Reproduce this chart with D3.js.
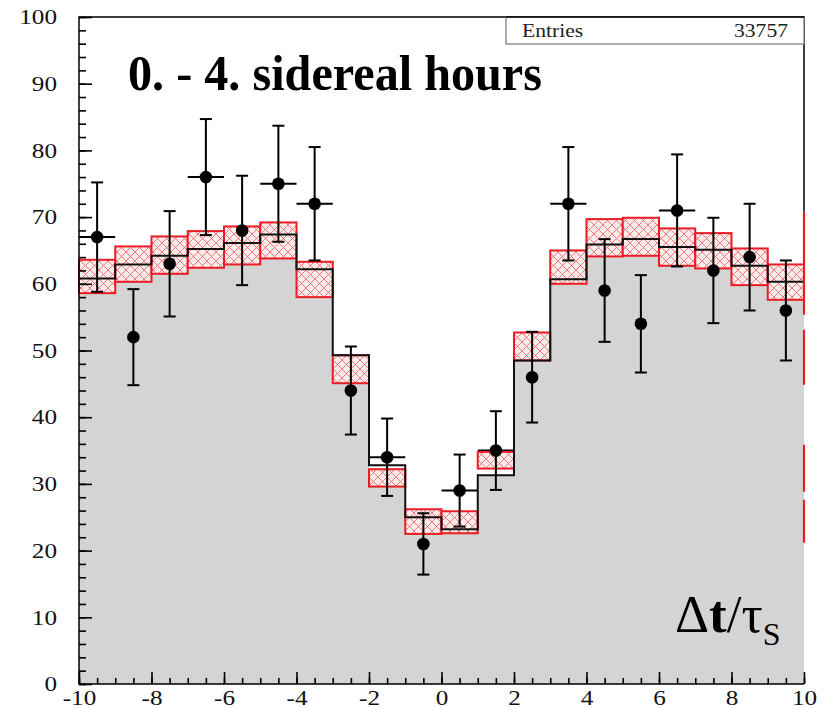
<!DOCTYPE html>
<html>
<head>
<meta charset="utf-8">
<script src="https://cdn.jsdelivr.net/npm/d3@7"></script>
<style>
body{margin:0;background:#fff}
text{font-family:"Liberation Serif","Times New Roman",serif}
</style>
</head>
<body>
<div id="chart"></div>
<script>
// bins of dt/tau_s, lower edges
var binLo = [-10,-9,-8,-7,-6,-5,-4,-3,-2,-1,0,1,2,3,4,5,6,7,8,9]
// measured counts and their errors
var counts = [67,52,63,76,68,75,72,44,34,21,29,35,46,72,59,54,71,62,64,56]
var errs = [8.2,7.2,7.9,8.7,8.2,8.7,8.5,6.6,5.8,4.6,5.4,5.9,6.8,8.5,7.7,7.3,8.4,7.9,8.0,7.5]
// expectation (black step) and its band (red hatched)
var model = [60.8,62.9,64.2,65.2,66.1,67.4,62.2,49.3,32.8,25.0,23.2,31.3,48.5,60.7,65.9,66.7,65.5,65.1,62.7,60.3]
var bandHi = [63.6,65.6,67.1,67.9,68.6,69.2,63.3,49.3,32.2,26.2,25.9,34.8,52.7,65.0,69.7,69.9,68.3,67.6,65.3,62.9]
var bandLo = [58.6,60.3,61.5,62.4,62.9,63.8,58.0,45.1,29.6,22.5,22.6,32.3,48.5,60.0,64.1,64.2,62.7,62.3,59.8,57.6]
var yTicks = [0,10,20,30,40,50,60,70,80,90,100]
var xTicks = [-10,-8,-6,-4,-2,0,2,4,6,8,10]
var entries = 33757
var title = "0. - 4. sidereal hours"

var width = 830, height = 708
var padL = 79, padR = 804, padT = 17, padB = 684
var red = "#ec1c24"
var grey = "#d4d4d4"

var x = d3.scaleLinear().domain([-10,10]).range([padL,padR])
var y = d3.scaleLinear().domain([0,100]).range([padB,padT])

var svg = d3.select("#chart").append("svg")
	.attr("width",width)
	.attr("height",height)

var defs = svg.append("defs")
var pat = defs.append("pattern").attr("id","hatch")
	.attr("patternUnits","userSpaceOnUse")
	.attr("width",9).attr("height",9)
pat.append("rect").attr("width",9).attr("height",9).attr("fill","#fbecec")
pat.append("path").attr("d","M0,0L9,9M9,0L0,9")
	.attr("stroke",red).attr("stroke-width",0.8).attr("opacity",0.7)

// step data, last edge repeated so the final bin is closed
function steps(vals){
	var pts = binLo.map(function(b,i){return {x:b,v:vals[i]}})
	pts.push({x:binLo[binLo.length-1]+1,v:vals[vals.length-1]})
	return pts
}
var shade = model.map(function(m,i){return Math.min(m,bandLo[i])})

// horizontal error bars go first: the grey area hides them where they fall inside it
svg.selectAll(".xerr")
	.data(counts)
	.enter()
	.append("line")
	.attr("x1",function(d,i){return x(binLo[i])})
	.attr("x2",function(d,i){return x(binLo[i]+1)})
	.attr("y1",function(d){return y(d)})
	.attr("y2",function(d){return y(d)})
	.attr("stroke","#000").attr("stroke-width",2)

var area = d3.area()
	.x(function(d){return x(d.x)})
	.y0(y(0))
	.y1(function(d){return y(d.v)})
	.curve(d3.curveStepAfter)
svg.append("path").datum(steps(shade)).attr("d",area).attr("fill",grey)

svg.selectAll(".band")
	.data(bandHi)
	.enter()
	.append("rect")
	.attr("x",function(d,i){return x(binLo[i])})
	.attr("y",function(d){return y(d)})
	.attr("width",x(1)-x(0))
	.attr("height",function(d,i){return y(bandLo[i])-y(d)})
	.attr("fill","url(#hatch)")
	.attr("stroke",red).attr("stroke-width",2)

var line = d3.line()
	.x(function(d){return x(d.x)})
	.y(function(d){return y(d.v)})
	.curve(d3.curveStepAfter)
svg.append("path").datum(steps(model)).attr("d",line)
	.attr("fill","none").attr("stroke","#111").attr("stroke-width",2)

var pts = svg.selectAll(".pt")
	.data(counts)
	.enter()
	.append("g")
	.attr("transform",function(d,i){return "translate("+x(binLo[i]+0.5)+",0)"})
pts.append("line")
	.attr("y1",function(d,i){return y(d-errs[i])})
	.attr("y2",function(d,i){return y(d+errs[i])})
	.attr("stroke","#000").attr("stroke-width",2)
pts.append("line").attr("x1",-6).attr("x2",6)
	.attr("y1",function(d,i){return y(d+errs[i])})
	.attr("y2",function(d,i){return y(d+errs[i])})
	.attr("stroke","#000").attr("stroke-width",2)
pts.append("line").attr("x1",-6).attr("x2",6)
	.attr("y1",function(d,i){return y(d-errs[i])})
	.attr("y2",function(d,i){return y(d-errs[i])})
	.attr("stroke","#000").attr("stroke-width",2)
pts.append("circle")
	.attr("cy",function(d){return y(d)})
	.attr("r",6.3)
	.attr("fill","#000")

// red dashed edge of the band along x = 10
svg.append("line")
	.attr("x1",x(10)).attr("x2",x(10))
	.attr("y1",y(70.8)).attr("y2",y(21.1))
	.attr("stroke",red).attr("stroke-width",2.2)
	.attr("stroke-dasharray","103,15,55,60,47,8,43,400")

// frame
svg.append("path")
	.attr("d","M"+x(10)+","+y(70.8)+"V"+padT+"H"+padL+"V"+padB+"H"+x(10))
	.attr("fill","none").attr("stroke","#000").attr("stroke-width",1.5)

// axes, ticks pointing inwards
var yAxis = d3.axisLeft(y).tickValues(yTicks).tickSize(-13).tickPadding(22)
	.tickFormat(function(d){return String(d)})
var yMinor = d3.axisLeft(y).tickValues(d3.range(0,101,2)).tickSize(-7).tickFormat("")
var xAxis = d3.axisBottom(x).tickValues(xTicks).tickSize(-12).tickPadding(6)
	.tickFormat(function(d){return String(d)})
var xMinor = d3.axisBottom(x).tickValues(d3.range(-10,10.01,0.5)).tickSize(-6).tickFormat("")

var sx = 1.2
var yG = svg.append("g").attr("transform","translate("+padL+",0)").call(yMinor)
var yG2 = svg.append("g").attr("transform","translate("+padL+",0)").call(yAxis)
var xG = svg.append("g").attr("transform","translate(0,"+padB+")").call(xMinor)
var xG2 = svg.append("g").attr("transform","translate(0,"+padB+")").call(xAxis)
;[yG,yG2,xG,xG2].forEach(function(g){
	g.select(".domain").remove()
	g.selectAll("line").attr("stroke","#000").attr("stroke-width",1.6)
})
yG2.selectAll("text")
	.attr("x",-22/sx)
	.attr("transform","scale("+sx+",1)")
	.style("font-size","21px").attr("fill","#111")
xG2.selectAll("text")
	.attr("transform","scale("+sx+",1)")
	.style("font-size","21px").attr("fill","#111")

// stats box
svg.append("rect")
	.attr("x",506).attr("y",padT)
	.attr("width",padR-506).attr("height",27)
	.attr("fill","#fff").attr("stroke","#777").attr("stroke-width",1.2)
svg.append("line").attr("x1",506).attr("x2",padR).attr("y1",padT).attr("y2",padT)
	.attr("stroke","#000").attr("stroke-width",1.5)
svg.append("text").text("Entries")
	.attr("transform","translate(522,37) scale("+sx+",1)")
	.style("font-size","18px").attr("fill","#222")
svg.append("text").text(entries)
	.attr("text-anchor","end")
	.attr("transform","translate(788,37) scale("+sx+",1)")
	.style("font-size","18px").attr("fill","#222")

// title
svg.append("text").text(title)
	.attr("x",128).attr("y",90)
	.attr("textLength",414).attr("lengthAdjust","spacingAndGlyphs")
	.style("font-size","51px").style("font-weight","bold")

// axis label
var lab = svg.append("text").attr("x",675).attr("y",632).style("font-size","53px")
lab.append("tspan").text("\u0394")
lab.append("tspan").text("t").style("font-weight","bold")
lab.append("tspan").text("/")
lab.append("tspan").text("\u03c4")
lab.append("tspan").text("S").attr("dy",13).style("font-size","32px")
</script>
</body>
</html>
